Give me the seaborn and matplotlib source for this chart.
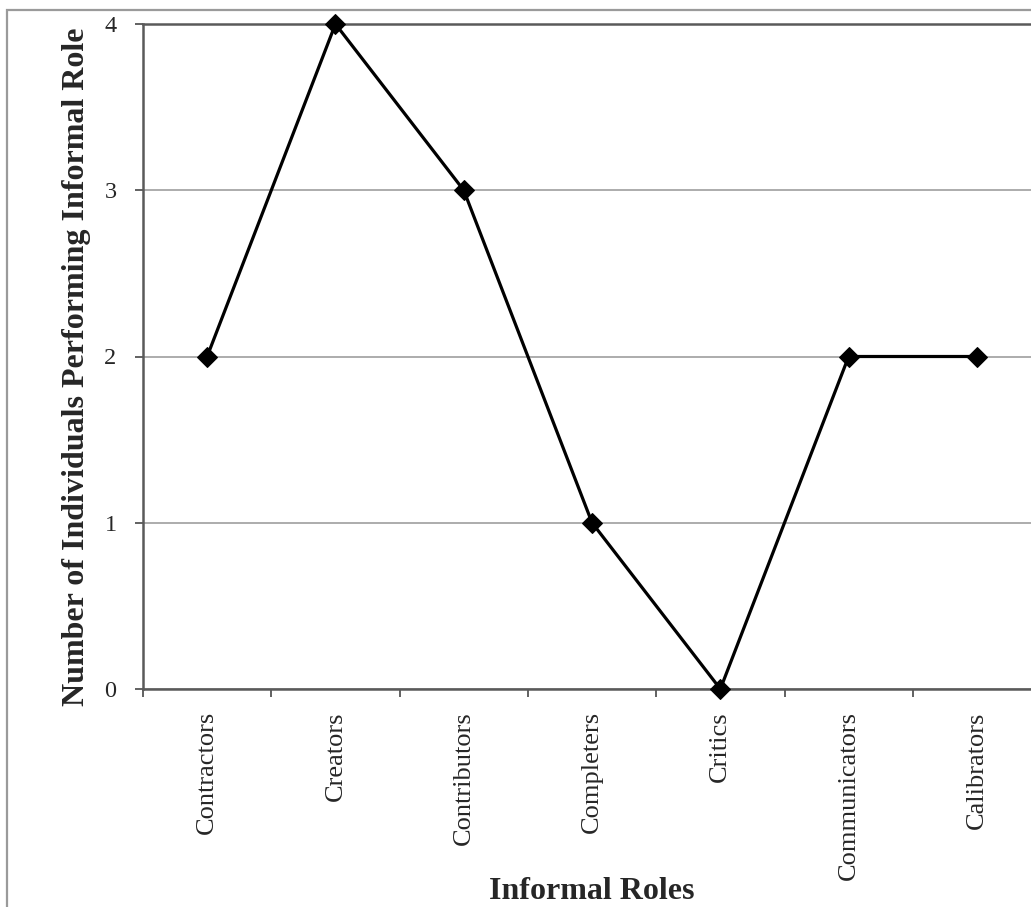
import numpy as np
import pandas as pd
import matplotlib
matplotlib.use("Agg")
import matplotlib.pyplot as plt
from matplotlib.patches import Rectangle
from matplotlib.ticker import FixedLocator
import seaborn as sns

#####----- DATA
roles = ["Contractors", "Creators", "Contributors", "Completers",
         "Critics", "Communicators", "Calibrators"]
counts = [2, 4, 3, 1, 0, 2, 2]
y_ticks = [0, 1, 2, 3, 4]

#####----- STYLE
sns.set_style("white")
plt.rcParams['font.family'] = ['Liberation Serif', 'DejaVu Serif']

W, H = 1031, 907
fig = plt.figure(figsize=(W / 100, H / 100), dpi=100)

# outer chart border (gray), cut off on the right and bottom like the original
fig.patches.append(Rectangle((7 / W, -0.1), 1.2, (H - 10) / H + 0.1, transform=fig.transFigure,
                             fill=False, edgecolor='#9a9a9a', linewidth=1.6))

ax = fig.add_axes([143 / W, (H - 689) / H, 7 * 128.3 / W, 665 / H])

df = pd.DataFrame({'role': roles, 'count': counts})
sns.lineplot(data=df, x='role', y='count', sort=False, color='black', linewidth=2.3,
             marker='D', markersize=10, markeredgecolor='black', clip_on=False, ax=ax, zorder=5)

ax.set_xlim(-0.5, len(roles) - 0.5)
ax.set_ylim(0, 4)
ax.set_yticks(y_ticks)
ax.set_yticklabels([str(v) for v in y_ticks], fontsize=17.5)
ax.set_xticks(range(len(roles)))
ax.set_xticklabels(roles, rotation=90, fontsize=19)
ax.xaxis.set_minor_locator(FixedLocator(np.arange(-0.5, len(roles), 1.0)))
ax.tick_params(axis='x', which='major', length=0, pad=16)
ax.tick_params(axis='x', which='minor', length=6, width=1.3, color='#555555', direction='out', bottom=True)
ax.tick_params(axis='y', length=6, width=1.3, color='#555555', direction='out', left=True, pad=13)

ax.yaxis.grid(True, color='#a6a6a6', linewidth=1.3)
ax.xaxis.grid(False)
ax.set_axisbelow(True)

for side in ['left', 'bottom', 'top']:
    ax.spines[side].set_visible(True)
    ax.spines[side].set_color('#5a5a5a')
    ax.spines[side].set_linewidth(1.8)
ax.spines['right'].set_visible(False)

ax.set_xlabel('Informal Roles', fontsize=23, fontweight='bold')
ax.set_ylabel('Number of Individuals Performing Informal Role', fontsize=23, fontweight='bold')
ax.xaxis.set_label_coords(0.5, -0.283)
ax.yaxis.label.set_va('center')
ax.yaxis.set_label_coords(-0.074, 0.485)

fig.savefig("out.png", dpi=100)
